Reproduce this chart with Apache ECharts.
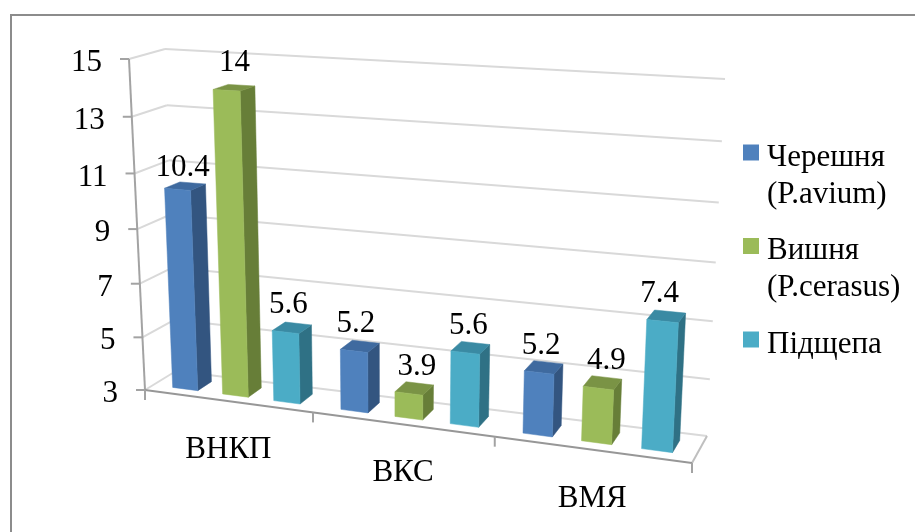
<!DOCTYPE html>
<html>
<head>
<meta charset="utf-8">
<style>html,body{margin:0;padding:0;background:#fff}#chart{width:915px;height:532px}</style>
<script src="https://cdn.jsdelivr.net/npm/echarts@6/dist/echarts.min.js"></script>
</head>
<body>
<div id="chart"></div>
<script>
const categories = ['ВНКП', 'ВКС', 'ВМЯ'];
const seriesNames = ['Черешня\n(P.avium)', 'Вишня\n(P.cerasus)', 'Підщепа'];
const cherry = [10.4, 5.2, 5.2];
const sourCherry = [14, 3.9, 4.9];
const rootstock = [5.6, 5.6, 7.4];
const valueTicks = [3, 5, 7, 9, 11, 13, 15];

const FONT = '"Liberation Serif", "Times New Roman", serif';
const TEXT_SIZE = 31;
const W = 915, H = 532;

// Perspective box of the plot: corners are [left/right][front/back][bottom/top].
const box = {
  lfb: [145, 390], lft: [129, 59], lbb: [176, 371], lbt: [165, 49],
  rfb: [692, 463], rft: [710, 90], rbb: [707, 436], rbt: [725, 79]
};
const U_PERSP = -0.0378, V_PERSP = 0.054;

const lerp = (a, b, t) => [a[0] + (b[0] - a[0]) * t, a[1] + (b[1] - a[1]) * t];

// Maps category position u (0..3), height v (0..1) and depth w (0..1) to the canvas.
function project(u, v, w) {
  const end = 3 / (1 + U_PERSP * 3);
  const t = (u / (1 + U_PERSP * u)) / end;
  const h = v * (1 - V_PERSP) / (1 - V_PERSP * v);
  const left = lerp(lerp(box.lfb, box.lft, h), lerp(box.lbb, box.lbt, h), w);
  const right = lerp(lerp(box.rfb, box.rft, h), lerp(box.rbb, box.rbt, h), w);
  return lerp(left, right, t);
}

// Reads u and v from the hidden category and value axes.
function axisPos(api, catIndex, frac, value) {
  const c = api.coord([catIndex, value]);
  const band = api.size([1, 0])[0];
  return { u: (c[0] - band / 2) / band + frac, v: (H - c[1]) / H };
}

const seg = (a, b, color, width) => ({
  type: 'line', shape: { x1: a[0], y1: a[1], x2: b[0], y2: b[1] },
  style: { stroke: color, lineWidth: width }, silent: true
});
const face = (pts, fill) => ({
  type: 'polygon', shape: { points: pts },
  style: { fill: fill, stroke: fill, lineWidth: 0.5 }, silent: true
});
const label = (text, x, y, align) => ({
  type: 'text', x: x, y: y, silent: true,
  style: { text: text, fill: '#000', font: TEXT_SIZE + 'px ' + FONT, align: align || 'center', verticalAlign: 'middle' }
});

// Walls, gridlines, axes, tick labels and category names.
function renderFrame(params, api) {
  const kids = [];
  const GRID = '#d9d9d9', AXIS = '#a3a3a3';
  valueTicks.forEach(function (tick) {
    const v = axisPos(api, 0, 0, tick).v;
    const a = project(0, v, 0), b = project(0, v, 1), c = project(3, v, 1);
    kids.push(seg(a, b, GRID, 2), seg(b, c, GRID, 2));
  });
  const vBottom = axisPos(api, 0, 0, valueTicks[0]).v;
  const vTop = axisPos(api, 0, 0, valueTicks[valueTicks.length - 1]).v;
  kids.push(seg(project(3, vBottom, 0), project(3, vBottom, 1), '#bfbfbf', 2));
  kids.push(seg(project(0, vBottom, 0), project(0, vTop, 0), AXIS, 2));
  valueTicks.forEach(function (tick) {
    const p = project(0, axisPos(api, 0, 0, tick).v, 0);
    kids.push(seg([p[0] - 9, p[1]], p, AXIS, 2));
    kids.push(label(String(tick), p[0] - 27, p[1] + 4, 'right'));
  });
  kids.push(seg(project(0, vBottom, 0), project(3, vBottom, 0), '#979797', 2));
  categories.forEach(function (name, i) {
    const start = project(axisPos(api, i, 0, valueTicks[0]).u, vBottom, 0);
    kids.push(seg(start, [start[0], start[1] + 10], AXIS, 2));
    const mid = project(axisPos(api, i, 0.5, valueTicks[0]).u, vBottom, 0);
    kids.push(label(name, mid[0] + 1, mid[1] + 49));
  });
  const last = project(3, vBottom, 0);
  kids.push(seg(last, [last[0], last[1] + 10], AXIS, 2));
  return { type: 'group', children: kids };
}

// Per-label nudges where a value sits off the usual spot above its column.
const labelNudge = { '0:0': [3, 6], '2:2': [-6, 0] };

// One 3D column: its front, side and top faces plus the value above it.
function barRenderer(slot, colors, labelShift) {
  const BAR_START = 0.12, BAR_STEP = 0.305, BAR_WIDTH = 0.154, W0 = 0.27, W1 = 0.73;
  return function (params, api) {
    const cat = api.value(0), val = api.value(1);
    const frac = BAR_START + slot * BAR_STEP;
    const low = axisPos(api, cat, frac, valueTicks[0]);
    const high = axisPos(api, cat, frac, val);
    const u0 = low.u, u1 = low.u + BAR_WIDTH, vb = low.v, vt = high.v;
    const P = project;
    const topMid = P((u0 + u1) / 2, vt, W0);
    const nudge = labelNudge[slot + ':' + cat] || [0, 0];
    return {
      type: 'group',
      children: [
        face([P(u1, vb, W0), P(u1, vb, W1), P(u1, vt, W1), P(u1, vt, W0)], colors.side),
        face([P(u0, vt, W0), P(u1, vt, W0), P(u1, vt, W1), P(u0, vt, W1)], colors.top),
        face([P(u0, vb, W0), P(u1, vb, W0), P(u1, vt, W0), P(u0, vt, W0)], colors.front),
        label(String(val), topMid[0] + labelShift + nudge[0], topMid[1] - 27 + nudge[1])
      ]
    };
  };
}

const palette = [
  { front: '#4f81bd', side: '#335580', top: '#3f6a9f' },
  { front: '#9bbb59', side: '#677e38', top: '#7a9345' },
  { front: '#4bacc6', side: '#2f7185', top: '#3a8aa3' }
];
const labelShifts = [2, 8, 3];
const seriesData = [cherry, sourCherry, rootstock];

const barSeries = seriesNames.map(function (name, s) {
  return {
    type: 'custom', name: name, z: 3 + s,
    coordinateSystem: 'cartesian2d',
    itemStyle: { color: palette[s].front },
    renderItem: barRenderer(s, palette[s], labelShifts[s]),
    encode: { x: 0, y: 1 },
    data: seriesData[s].map((v, i) => [i, v])
  };
});

// Legend text: a spacer line keeps the first text line just under the swatch centre.
function legendText(name) {
  const lines = name.split('\n');
  const second = lines[1] || ' ';
  return '{g| }\n{t|' + lines[0] + '}\n{t|' + second + '}';
}

const chart = echarts.init(document.getElementById('chart'), null, { renderer: 'canvas' });
chart.setOption({
  animation: false,
  backgroundColor: '#fff',
  grid: { left: 0, top: 0, width: W, height: H, containLabel: false },
  xAxis: { type: 'category', data: categories, show: false },
  yAxis: { type: 'value', min: 3, max: 15, interval: 2, show: false },
  legend: {
    left: 743, top: 110.5, orient: 'vertical', icon: 'rect',
    itemWidth: 16, itemHeight: 16, itemGap: -6, selectedMode: false, padding: 0,
    data: seriesNames,
    formatter: legendText,
    textStyle: {
      padding: [0, 0, 0, 3],
      rich: {
        g: { fontSize: 10, lineHeight: 47 },
        t: { fontFamily: FONT, fontSize: TEXT_SIZE, lineHeight: 37, color: '#000' }
      }
    }
  },
  graphic: [
    {
      type: 'polyline', silent: true, z: 0,
      shape: { points: [[11, H], [11, 15], [W, 15]] },
      style: { stroke: '#8c8c8c', lineWidth: 2, fill: 'none' }
    }
  ],
  series: [
    { type: 'custom', name: 'frame', z: 2, coordinateSystem: 'cartesian2d', renderItem: renderFrame, encode: { x: 0, y: 1 }, data: [[0, 3]], silent: true }
  ].concat(barSeries),
  tooltip: { show: false }
});
</script>
</body>
</html>
